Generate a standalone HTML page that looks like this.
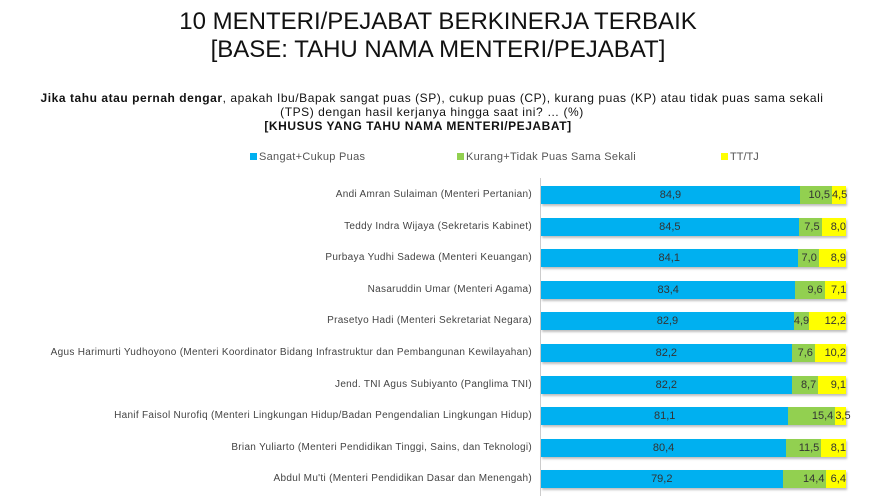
<!DOCTYPE html><html><head><style>
body{margin:0;width:876px;height:500px;background:#fff;font-family:"Liberation Sans",sans-serif;position:relative;overflow:hidden}
.a{position:absolute}
.t{left:0;width:876px;text-align:center;font-size:24px;color:#111;letter-spacing:0}
.lab{right:344px;font-size:10px;letter-spacing:0.3px;color:#444;text-align:right;white-space:nowrap}
.bar{left:541px;height:18px;display:flex;box-shadow:1px 2px 2px rgba(0,0,0,0.25)}
.bar div{height:18px;line-height:18px;font-size:11px;color:#333;text-align:center;white-space:nowrap;overflow:visible}
.b{background:#00B0F0}.g{background:#92D050}.y{background:#FFFF00}
</style></head><body>
<div class="a t" style="top:8px">10 MENTERI/PEJABAT BERKINERJA TERBAIK</div>
<div class="a t" style="top:36px">[BASE: TAHU NAMA MENTERI/PEJABAT]</div>
<div class="a" style="left:0;width:876px;top:91px;text-align:center;font-size:12px;letter-spacing:0.55px;line-height:14px;color:#111"><span style="position:relative;left:-6px"><b>Jika tahu atau pernah dengar</b>, apakah Ibu/Bapak sangat puas (SP), cukup puas (CP), kurang puas (KP) atau tidak puas sama sekali</span><br><span style="position:relative;left:-6px">(TPS) dengan hasil kerjanya hingga saat ini? … (%)</span><br><b style="position:relative;left:-20px">[KHUSUS YANG TAHU NAMA MENTERI/PEJABAT]</b></div>
<div class="a" style="left:250px;top:151px;font-size:11px;letter-spacing:0.3px;color:#555"><span style="display:inline-block;width:7px;height:7px;background:#00B0F0;margin-right:2px"></span>Sangat+Cukup Puas</div>
<div class="a" style="left:457px;top:151px;font-size:11px;letter-spacing:0.3px;color:#555"><span style="display:inline-block;width:7px;height:7px;background:#92D050;margin-right:2px"></span>Kurang+Tidak Puas Sama Sekali</div>
<div class="a" style="left:721px;top:151px;font-size:11px;color:#555"><span style="display:inline-block;width:7px;height:7px;background:#FFFF00;margin-right:2px"></span>TT/TJ</div>
<div class="a" style="left:540px;top:178px;width:1px;height:318px;background:#ccc"></div>
<div id="c"></div>
<script>
var d=[["Andi Amran Sulaiman (Menteri Pertanian)",84.9,10.5,4.5],["Teddy Indra Wijaya (Sekretaris Kabinet)",84.5,7.5,8.0],["Purbaya Yudhi Sadewa (Menteri Keuangan)",84.1,7.0,8.9],["Nasaruddin Umar (Menteri Agama)",83.4,9.6,7.1],["Prasetyo Hadi (Menteri Sekretariat Negara)",82.9,4.9,12.2],["Agus Harimurti Yudhoyono (Menteri Koordinator Bidang Infrastruktur dan Pembangunan Kewilayahan)",82.2,7.6,10.2],["Jend. TNI Agus Subiyanto (Panglima TNI)",82.2,8.7,9.1],["Hanif Faisol Nurofiq (Menteri Lingkungan Hidup/Badan Pengendalian Lingkungan Hidup)",81.1,15.4,3.5],["Brian Yuliarto (Menteri Pendidikan Tinggi, Sains, dan Teknologi)",80.4,11.5,8.1],["Abdul Mu'ti (Menteri Pendidikan Dasar dan Menengah)",79.2,14.4,6.4]];
var h="",W=305;
function f(v){return v.toFixed(1).replace(".",",")}
d.forEach(function(r,i){var y=186+i*31.6;
h+='<div class="a lab" style="top:'+(y+3)+'px">'+r[0]+'</div>';
h+='<div class="a bar" style="top:'+y+'px"><div class="b" style="width:'+(r[1]*W/100)+'px">'+f(r[1])+'</div><div class="g" style="width:'+(r[2]*W/100)+'px;text-align:right;padding-right:0"><span style="margin-right:2px">'+f(r[2])+'</span></div><div class="y" style="width:'+(r[3]*W/100)+'px;text-align:right">'+f(r[3])+'</div></div>';});
document.getElementById("c").innerHTML=h;
</script>
</body></html>
